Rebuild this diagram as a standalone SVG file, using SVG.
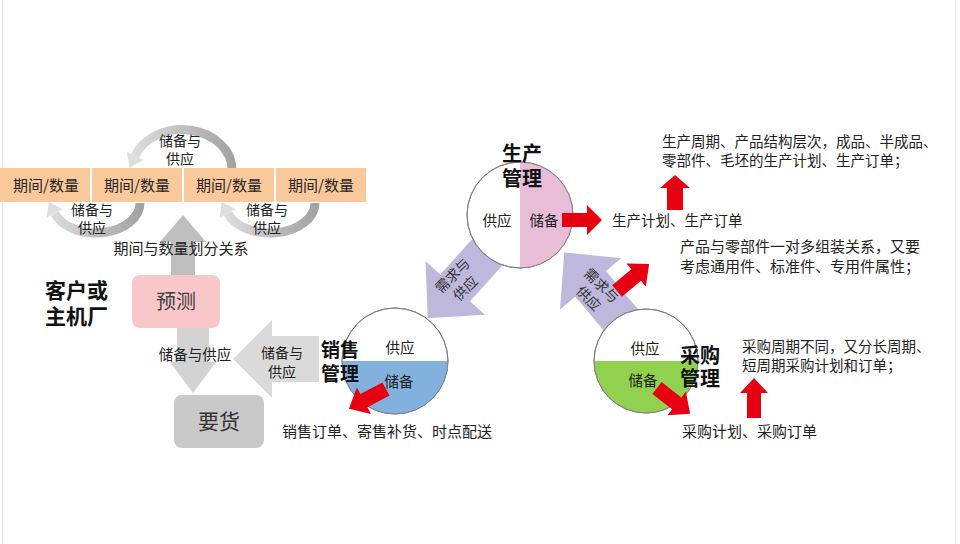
<svg xmlns="http://www.w3.org/2000/svg" width="960" height="544" viewBox="0 0 960 544">
<style>
.t{font-family:'Noto Sans CJK SC','Noto Sans',sans-serif;fill:#222;font-size:14.5px}
.m{text-anchor:middle}
.s{font-size:14px}
.b{font-weight:700;font-size:20px;fill:#111}
.box{fill:#F9C89B}
.bt{font-size:15px;fill:#262626;text-anchor:middle}
.red{fill:#E60012}
.pur{fill:#BEB8DC}
.circ{stroke:#7f7f7f;stroke-width:1}
.arc{fill:none;stroke-width:9}
</style>
<defs>
<linearGradient id="g1" gradientUnits="userSpaceOnUse" x1="232" y1="0" x2="128" y2="0"><stop offset="0" stop-color="#A3A3A3"/><stop offset="1" stop-color="#E0E0E0"/></linearGradient>
<linearGradient id="g2" gradientUnits="userSpaceOnUse" x1="140" y1="0" x2="46" y2="0"><stop offset="0" stop-color="#A3A3A3"/><stop offset="1" stop-color="#E0E0E0"/></linearGradient>
<linearGradient id="g3" gradientUnits="userSpaceOnUse" x1="315" y1="0" x2="220" y2="0"><stop offset="0" stop-color="#A3A3A3"/><stop offset="1" stop-color="#E0E0E0"/></linearGradient>
<polygon id="pa" points="0,-20 55,-20 55,-40 96,0 55,40 55,20 0,20"/>
<polygon id="ra" points="0,-7.5 25,-7.5 25,-15 42,0 25,15 25,7.5 0,7.5"/>
</defs>
<rect width="960" height="544" fill="#fff"/>
<line x1="2.5" y1="0" x2="2.5" y2="544" stroke="#e2e2e2"/>
<line x1="955.5" y1="0" x2="955.5" y2="544" stroke="#eeeeee"/>

<g id="connectors">
  <path class="arc" stroke="url(#g1)" d="M232,170 A50,40 0 0 0 135,156"/>
  <polygon fill="#DEDEDE" points="129.7,167.8 143.2,159.7 126.8,152.3"/>
  <path class="arc" stroke="url(#g2)" d="M140,203 A44,30 0 0 1 54.7,213.3"/>
  <polygon fill="#DEDEDE" points="48.6,201.9 62.6,209.1 46.8,217.5"/>
  <path class="arc" stroke="url(#g3)" d="M315,203 A45,30 0 0 1 227.7,213.3"/>
  <polygon fill="#DEDEDE" points="221.6,201.9 235.6,209.1 219.8,217.5"/>
  <polygon fill="#BFBFBF" points="183,215 206,242 195,242 195,278 171,278 171,242 160,242"/>
  <polygon fill="#D2D2D2" points="177,326 209,326 209,362 216,362 193,393 170,362 177,362"/>
  <polygon fill="#DADADA" points="319,336 272,336 272,320 233,359 272,398 272,382 319,382"/>
  <use href="#pa" class="pur" transform="translate(492,247) rotate(132)"/>
  <use href="#pa" class="pur" transform="translate(626,326) rotate(-130)"/>
</g>

<g id="period-boxes">
  <rect class="box" x="0" y="168" width="90" height="34"/>
  <rect class="box" x="92" y="168" width="90" height="34"/>
  <rect class="box" x="184" y="168" width="90" height="34"/>
  <rect class="box" x="276" y="168" width="90" height="34"/>
  <text class="t bt" x="46" y="191">期间/数量</text>
  <text class="t bt" x="137" y="191">期间/数量</text>
  <text class="t bt" x="229" y="191">期间/数量</text>
  <text class="t bt" x="321" y="191">期间/数量</text>
</g>

<g id="labels-cycles">
  <text class="t m s" x="180" y="146">储备与</text>
  <text class="t m s" x="180" y="164">供应</text>
  <text class="t m s" x="92" y="215">储备与</text>
  <text class="t m s" x="92" y="233">供应</text>
  <text class="t m s" x="267" y="215">储备与</text>
  <text class="t m s" x="267" y="233">供应</text>
  <text class="t m" x="181" y="254" style="font-size:15px">期间与数量划分关系</text>
  <text class="t m" x="195" y="360">储备与供应</text>
  <text class="t m s" x="282" y="358">储备与</text>
  <text class="t m s" x="282" y="377">供应</text>
</g>

<g id="customer">
  <text class="t" x="45" y="298" style="font-size:21px;font-weight:700;fill:#111">客户或</text>
  <text class="t" x="45" y="324" style="font-size:21px;font-weight:700;fill:#111">主机厂</text>
</g>

<g id="forecast">
  <rect x="132" y="275" width="88" height="53" rx="8" fill="#F9C6C9"/>
  <text class="t m" x="176" y="309" style="font-size:20px;fill:#404040">预测</text>
</g>

<g id="demand">
  <rect x="174" y="395" width="90" height="53" rx="8" fill="#C9C9C9"/>
  <text class="t m" x="219" y="429" style="font-size:21px;fill:#333">要货</text>
</g>

<g id="production">
  <circle class="circ" cx="520" cy="215" r="53" fill="#fff"/>
  <path d="M520,162 A53,53 0 0 1 520,268 Z" fill="#E9BDD7"/>
  <circle cx="520" cy="215" r="53" fill="none" class="circ"/>
  <text class="t m" x="497" y="226">供应</text>
  <text class="t m" x="544" y="226">储备</text>
  <text class="t b m" x="522" y="161">生产</text>
  <text class="t b m" x="522" y="186">管理</text>
</g>

<g id="sales">
  <circle class="circ" cx="395" cy="361" r="53" fill="#fff"/>
  <path d="M342,361 A53,53 0 0 0 448,361 Z" fill="#82B1DE"/>
  <circle cx="395" cy="361" r="53" fill="none" class="circ"/>
  <text class="t m" x="400" y="353">供应</text>
  <text class="t m" x="399" y="387">储备</text>
  <text class="t b" x="321" y="357" style="font-size:19px">销售</text>
  <text class="t b" x="321" y="381" style="font-size:19px">管理</text>
</g>

<g id="purchase">
  <circle class="circ" cx="646" cy="361" r="52" fill="#fff"/>
  <path d="M594,361 A52,52 0 0 0 698,361 Z" fill="#92D050"/>
  <circle cx="646" cy="361" r="52" fill="none" class="circ"/>
  <text class="t m" x="645" y="354">供应</text>
  <text class="t m" x="643" y="386">储备</text>
  <text class="t b" x="680" y="363">采购</text>
  <text class="t b" x="680" y="386">管理</text>
</g>

<g id="flows">
  <polygon class="red" points="562,213 587,213 587,205 602,220 587,235 587,227 562,227"/>
  <polygon class="red" points="675,175 690,188 683,188 683,210 667,210 667,188 660,188"/>
  <polygon class="red" points="754,378 768,393 761,393 761,418 747,418 747,393 740,393"/>
  <use href="#ra" class="red" transform="translate(386,389) rotate(152)"/>
  <use href="#ra" class="red" transform="translate(657,388) rotate(38)"/>
  <use href="#ra" class="red" transform="translate(617,291) rotate(-40)"/>
</g>

<g id="purple-labels">
  <g transform="translate(459,282) rotate(-45)">
    <text class="t m s" x="0" y="-4" style="fill:#333">需求与</text>
    <text class="t m s" x="0" y="14" style="fill:#333">供应</text>
  </g>
  <g transform="translate(595,292) rotate(45)">
    <text class="t m s" x="0" y="-4" style="fill:#333">需求与</text>
    <text class="t m s" x="0" y="14" style="fill:#333">供应</text>
  </g>
</g>

<g id="notes">
  <text class="t" x="662" y="147">生产周期、产品结构层次，成品、半成品、</text>
  <text class="t" x="662" y="166">零部件、毛坯的生产计划、生产订单；</text>
  <text class="t" x="612" y="226">生产计划、生产订单</text>
  <text class="t" x="680" y="252" style="font-size:15px">产品与零部件一对多组装关系，又要</text>
  <text class="t" x="680" y="272" style="font-size:15px">考虑通用件、标准件、专用件属性；</text>
  <text class="t" x="742" y="352">采购周期不同，又分长周期、</text>
  <text class="t" x="742" y="371">短周期采购计划和订单；</text>
  <text class="t" x="682" y="437" style="font-size:15px">采购计划、采购订单</text>
  <text class="t" x="282" y="437" style="font-size:15px">销售订单、寄售补货、时点配送</text>
</g>
</svg>
